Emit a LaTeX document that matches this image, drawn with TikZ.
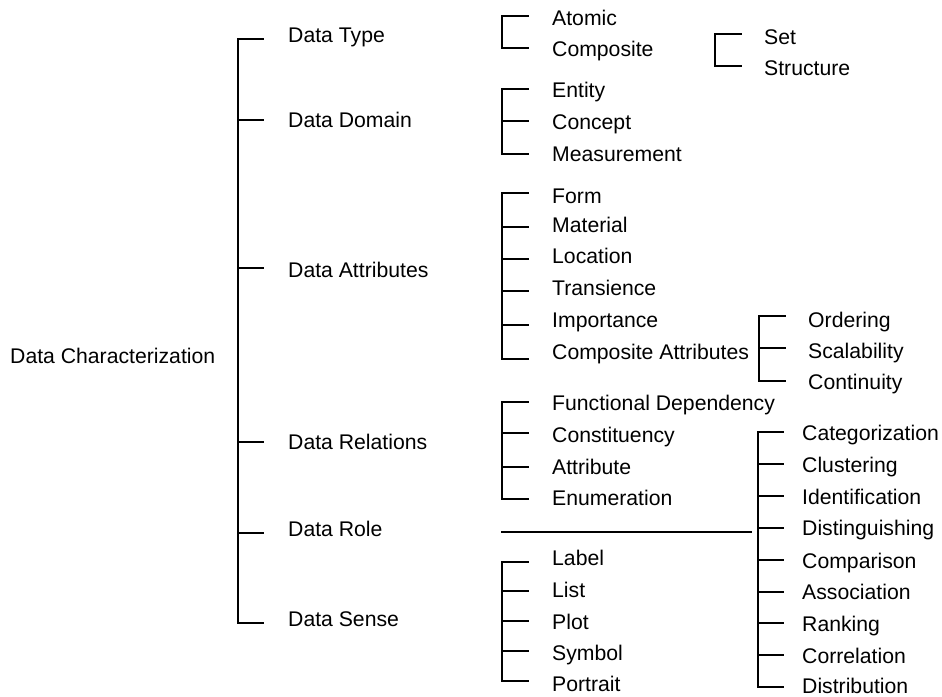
\documentclass[tikz,border=0pt]{standalone}
\usepackage{fontspec}
\setmainfont{Liberation Sans}
\begin{document}
\begin{tikzpicture}[x=1pt,y=-1pt,
  br/.style={line width=2.8pt,line cap=rect,line join=miter},
  lbl/.style={font=\fontsize{21.2}{25}\selectfont,anchor=west,inner sep=0pt,
              text height=15pt,text depth=0pt}]
\useasboundingbox (0,0) rectangle (942,696);

% ---------- root ----------
\node[lbl] (root) at (10,356) {Data Characterization};

% ---------- first level ----------
\node[lbl] (type)  at (288,35)  {Data Type};
\node[lbl] (dom)   at (288,120) {Data Domain};
\node[lbl] (attr)  at (288,270) {Data Attributes};
\node[lbl] (rel)   at (288,442) {Data Relations};
\node[lbl] (role)  at (288,529) {Data Role};
\node[lbl] (sense) at (288,619) {Data Sense};

\coordinate (k-type)  at (263,39);
\coordinate (k-dom)   at (263,120);
\coordinate (k-attr)  at (263,268);
\coordinate (k-rel)   at (263,442);
\coordinate (k-role)  at (263,533);
\coordinate (k-sense) at (263,623);
\draw[br] (k-type) -- ++(-25,0) |- (k-sense);
\foreach \k in {dom,attr,rel,role} \draw[br] (k-\k) -- ++(-25,0);

% ---------- data type ----------
\node[lbl] (atomic) at (552,18) {Atomic};
\node[lbl] (compo)  at (552,49) {Composite};
\coordinate (k-atomic) at (528,16);
\coordinate (k-compo)  at (528,48);
\draw[br] (k-atomic) -- ++(-26,0) |- (k-compo);

\node[lbl] (set)    at (764,37) {Set};
\node[lbl] (struct) at (764,68) {Structure};
\coordinate (k-set)    at (741,34);
\coordinate (k-struct) at (741,66);
\draw[br] (k-set) -- ++(-26,0) |- (k-struct);

% ---------- data domain ----------
\node[lbl] (entity)  at (552,90)  {Entity};
\node[lbl] (concept) at (552,122) {Concept};
\node[lbl] (measure) at (552,154) {Measurement};
\coordinate (k-entity)  at (528,89);
\coordinate (k-concept) at (528,121);
\coordinate (k-measure) at (528,154);
\draw[br] (k-entity) -- ++(-26,0) |- (k-measure);
\draw[br] (k-concept) -- ++(-26,0);

% ---------- data attributes ----------
\node[lbl] (form)  at (552,196) {Form};
\node[lbl] (mat)   at (552,225) {Material};
\node[lbl] (loc)   at (552,256) {Location};
\node[lbl] (trans) at (552,288) {Transience};
\node[lbl] (imp)   at (552,320) {Importance};
\node[lbl] (cattr) at (552,352) {Composite Attributes};
\coordinate (k-form)  at (528,193);
\coordinate (k-mat)   at (528,227);
\coordinate (k-loc)   at (528,259);
\coordinate (k-trans) at (528,291);
\coordinate (k-imp)   at (528,325);
\coordinate (k-cattr) at (528,359);
\draw[br] (k-form) -- ++(-26,0) |- (k-cattr);
\foreach \k in {mat,loc,trans,imp} \draw[br] (k-\k) -- ++(-26,0);

\node[lbl] (order) at (808,320) {Ordering};
\node[lbl] (scal)  at (808,351) {Scalability};
\node[lbl] (cont)  at (808,382) {Continuity};
\coordinate (k-order) at (785,316);
\coordinate (k-scal)  at (785,348);
\coordinate (k-cont)  at (785,381);
\draw[br] (k-order) -- ++(-26,0) |- (k-cont);
\draw[br] (k-scal) -- ++(-26,0);

% ---------- data relations ----------
\node[lbl] (func)  at (552,403) {Functional Dependency};
\node[lbl] (const) at (552,435) {Constituency};
\node[lbl] (attb)  at (552,467) {Attribute};
\node[lbl] (enum)  at (552,498) {Enumeration};
\coordinate (k-func)  at (528,402);
\coordinate (k-const) at (528,433);
\coordinate (k-attb)  at (528,467);
\coordinate (k-enum)  at (528,499);
\draw[br] (k-func) -- ++(-26,0) |- (k-enum);
\foreach \k in {const,attb} \draw[br] (k-\k) -- ++(-26,0);

% ---------- data role ----------
\coordinate (r-start) at (502,532);
\coordinate (r-end)   at (751,532);
\draw[br] (r-start) -- (r-end);

\node[lbl] (categ) at (802,433) {Categorization};
\node[lbl] (clust) at (802,465) {Clustering};
\node[lbl] (ident) at (802,497) {Identification};
\node[lbl] (dist)  at (802,528) {Distinguishing};
\node[lbl] (comp)  at (802,561) {Comparison};
\node[lbl] (assoc) at (802,592) {Association};
\node[lbl] (rank)  at (802,624) {Ranking};
\node[lbl] (corr)  at (802,656) {Correlation};
\node[lbl] (distr) at (802,686) {Distribution};
\coordinate (k-categ) at (783,432);
\coordinate (k-clust) at (783,464);
\coordinate (k-ident) at (783,496);
\coordinate (k-dist)  at (783,528);
\coordinate (k-comp)  at (783,560);
\coordinate (k-assoc) at (783,592);
\coordinate (k-rank)  at (783,623);
\coordinate (k-corr)  at (783,655);
\coordinate (k-distr) at (783,687);
\draw[br] (k-categ) -- ++(-25,0) |- (k-distr);
\foreach \k in {clust,ident,dist,comp,assoc,rank,corr} \draw[br] (k-\k) -- ++(-25,0);

% ---------- data sense ----------
\node[lbl] (label)  at (552,558) {Label};
\node[lbl] (list)   at (552,590) {List};
\node[lbl] (plot)   at (552,622) {Plot};
\node[lbl] (symbol) at (552,653) {Symbol};
\node[lbl] (portr)  at (552,684) {Portrait};
\coordinate (k-label)  at (528,562);
\coordinate (k-list)   at (528,591);
\coordinate (k-plot)   at (528,621);
\coordinate (k-symbol) at (528,651);
\coordinate (k-portr)  at (528,681);
\draw[br] (k-label) -- ++(-26,0) |- (k-portr);
\foreach \k in {list,plot,symbol} \draw[br] (k-\k) -- ++(-26,0);
\end{tikzpicture}
\end{document}
